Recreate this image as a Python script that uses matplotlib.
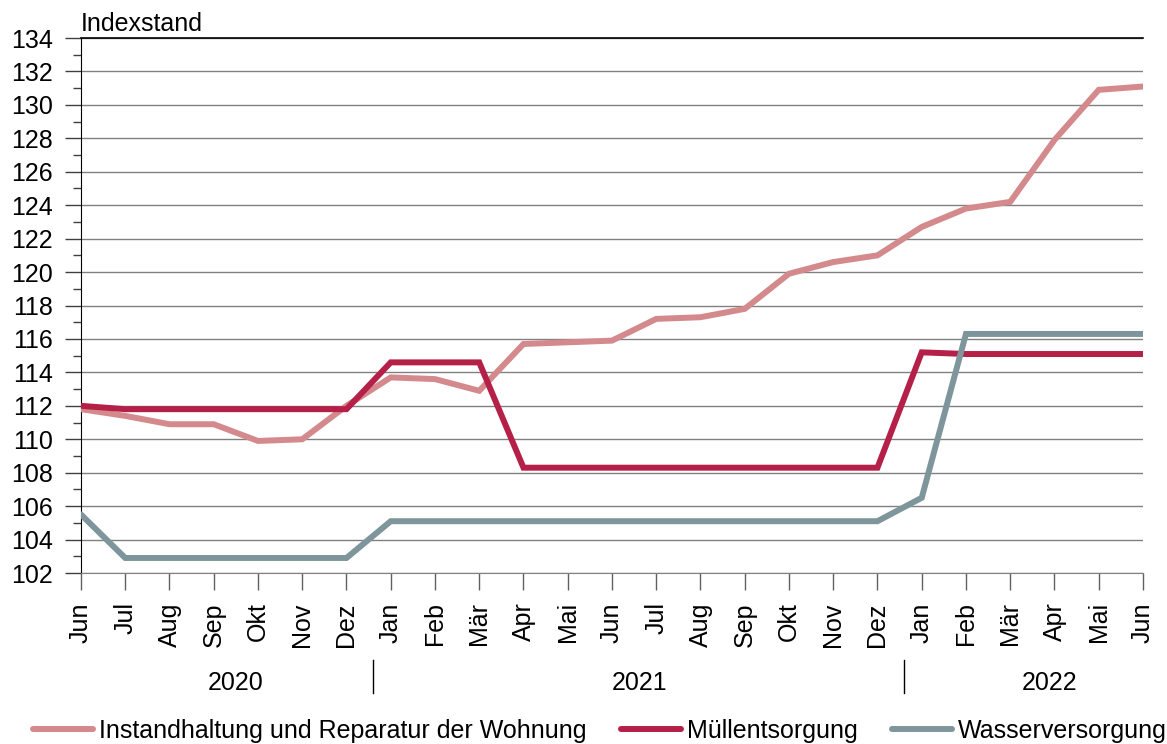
import matplotlib
matplotlib.use("Agg")
import matplotlib.pyplot as plt
import matplotlib.transforms as mtransforms
from matplotlib.lines import Line2D
import numpy as np

plt.rcParams['font.family'] = ['Liberation Sans', 'DejaVu Sans']
FS = 18
plt.rcParams['font.size'] = FS

months = ["Jun", "Jul", "Aug", "Sep", "Okt", "Nov", "Dez",
          "Jan", "Feb", "Mär", "Apr", "Mai", "Jun", "Jul", "Aug", "Sep", "Okt", "Nov", "Dez",
          "Jan", "Feb", "Mär", "Apr", "Mai", "Jun"]
years = ["2020", "2021", "2022"]
year_label_pos = [3.5, 12.63, 21.9]
year_sep_pos = [6.6, 18.6]

instandhaltung = [111.8, 111.4, 110.9, 110.9, 109.9, 110.0, 112.0,
                  113.7, 113.6, 112.9, 115.7, 115.8, 115.9, 117.2, 117.3, 117.8, 119.9, 120.6, 121.0,
                  122.7, 123.8, 124.2, 127.9, 130.9, 131.1]
muell = [112.0, 111.8, 111.8, 111.8, 111.8, 111.8, 111.8,
         114.6, 114.6, 114.6, 108.3, 108.3, 108.3, 108.3, 108.3, 108.3, 108.3, 108.3, 108.3,
         115.2, 115.1, 115.1, 115.1, 115.1, 115.1]
wasser = [105.5, 102.9, 102.9, 102.9, 102.9, 102.9, 102.9,
          105.1, 105.1, 105.1, 105.1, 105.1, 105.1, 105.1, 105.1, 105.1, 105.1, 105.1, 105.1,
          106.5, 116.3, 116.3, 116.3, 116.3, 116.3]
series_names = ["Instandhaltung und Reparatur der Wohnung", "Müllentsorgung", "Wasserversorgung"]
colors = ["#D48A8D", "#B52048", "#7E969B"]

fig = plt.figure(figsize=(11.67, 7.44), dpi=100)
ax = fig.add_axes([0.0694, 0.2298, 0.9100, 0.7191])

x = np.arange(len(months))
for vals, name, c in zip([instandhaltung, muell, wasser], series_names, colors):
    ax.plot(x, vals, color=c, lw=4.3, label=name, solid_joinstyle='miter',
            solid_capstyle='round', zorder=3)

ax.set_xlim(0, len(months) - 1)
ax.set_ylim(102, 134)
ax.set_yticks(np.arange(102, 135, 2))
ax.set_yticks(np.arange(103, 134, 2), minor=True)
ax.yaxis.grid(True, color="#808080", lw=1.0)
ax.set_axisbelow(True)
ax.tick_params(axis='y', which='major', length=11.5, width=1, color="#404040", pad=9, labelsize=FS)
ax.tick_params(axis='y', which='minor', length=5.8, width=1, color="#404040")
ax.set_xticks(x)
ax.set_xticklabels(months, rotation=90, fontsize=FS)
ax.tick_params(axis='x', length=12, width=1, color="#606060", pad=9)

ax.spines['right'].set_visible(False)
ax.spines['top'].set_color('black')
ax.spines['left'].set_color('black')
ax.spines['bottom'].set_color('#808080')
ax.spines['top'].set_linewidth(1.2)

ax.text(0.0, 1.003, "Indexstand", transform=ax.transAxes, ha='left', va='bottom', fontsize=FS)

trans = mtransforms.blended_transform_factory(ax.transData, fig.transFigure)
for p, yl in zip(year_label_pos, years):
    fig.text(p, 1 - 683 / 744, yl, transform=trans, ha='center', va='center', fontsize=FS)
for p in year_sep_pos:
    fig.add_artist(Line2D([p, p], [1 - 660 / 744, 1 - 693 / 744], transform=trans, color='black', lw=1))

fig.legend(loc='center', bbox_to_anchor=(0.514, 1 - 731 / 744), ncol=3, frameon=False,
           handlelength=2.4, columnspacing=1.4, handletextpad=0.22, fontsize=FS,
           borderaxespad=0, borderpad=0)

fig.savefig("out.png", dpi=100)
